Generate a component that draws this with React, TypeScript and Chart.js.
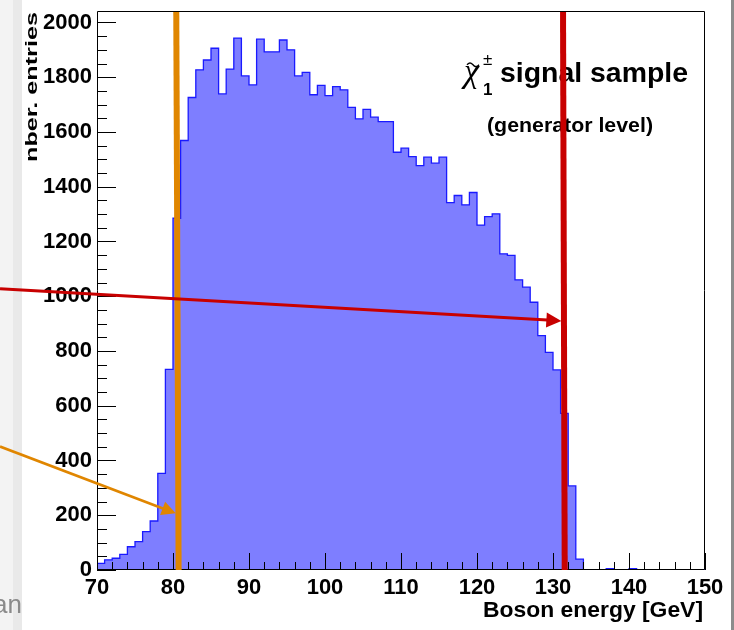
import React, { useEffect, useRef } from "react";
import { Chart, registerables } from "chart.js";

Chart.register(...registerables);

// ---- data ----
const binLow = 70;
const binWidth = 1;
const counts = [
  24, 37, 43, 57, 85, 104, 140, 179, 353, 733,
  1285, 1569, 1726, 1827, 1863, 1906, 1739, 1830, 1943, 1805,
  1772, 1939, 1893, 1893, 1936, 1900, 1805, 1818, 1736, 1770,
  1733, 1766, 1754, 1690, 1648, 1683, 1654, 1638, 1638, 1526,
  1541, 1510, 1477, 1508, 1486, 1508, 1342, 1368, 1334, 1379,
  1260, 1291, 1301, 1155, 1149, 1060, 1033, 978, 856, 795,
  731, 572, 307, 40, 0, 0, 0, 5, 0, 0,
  5, 0, 0, 0, 0, 0, 0, 0, 0, 0,
];
const xTicks = [70, 80, 90, 100, 110, 120, 130, 140, 150];
const yTicks = [0, 200, 400, 600, 800, 1000, 1200, 1400, 1600, 1800, 2000];
const xMin = 70;
const xMax = 150;
const yMax = 2042;
const xMinorStep = 2;
const yMinorStep = 50;

// cut lines (x at top, x at bottom) and arrows (data coordinates)
const orangeCut = [80.43, 80.74];
const redCut = [131.32, 131.54];
const redArrow = [57.24, 1027, 131.1, 910];
const orangeArrow = [57.24, 451, 80.36, 207];

const xTitle = "Boson energy [GeV]";
const yTitle = "nber. entries";
const sampleTitle = "signal sample";
const sampleSub = "(generator level)";

const SANS = '"Liberation Sans", Arial, sans-serif';
const SERIF = '"Liberation Serif", "Times New Roman", serif';

function scaledText(
  ctx: CanvasRenderingContext2D,
  text: string,
  x: number,
  y: number,
  width: number,
  font: string,
  align: "left" | "right"
) {
  ctx.save();
  ctx.font = font;
  ctx.textBaseline = "alphabetic";
  const w = ctx.measureText(text).width;
  const sx = width / w;
  ctx.translate(x, y);
  ctx.scale(sx, 1);
  ctx.textAlign = align;
  ctx.fillText(text, 0, 0);
  ctx.restore();
}

function drawArrow(
  ctx: CanvasRenderingContext2D,
  x0: number, y0: number, x1: number, y1: number,
  color: string, lw: number, headLen: number, headW: number
) {
  const ang = Math.atan2(y1 - y0, x1 - x0);
  const bx = x1 - headLen * Math.cos(ang);
  const by = y1 - headLen * Math.sin(ang);
  ctx.save();
  ctx.strokeStyle = color;
  ctx.fillStyle = color;
  ctx.lineWidth = lw;
  ctx.lineCap = "butt";
  ctx.beginPath();
  ctx.moveTo(x0, y0);
  ctx.lineTo(bx + 1 * Math.cos(ang), by + 1 * Math.sin(ang));
  ctx.stroke();
  const nx = -Math.sin(ang) * headW / 2;
  const ny = Math.cos(ang) * headW / 2;
  ctx.beginPath();
  ctx.moveTo(x1, y1);
  ctx.lineTo(bx + nx, by + ny);
  ctx.lineTo(bx - nx, by - ny);
  ctx.closePath();
  ctx.fill();
  ctx.restore();
}

const decorPlugin = {
  id: "rootDecor",
  beforeDraw(chart: any) {
    const ctx = chart.ctx as CanvasRenderingContext2D;
    ctx.save();
    ctx.fillStyle = "#ffffff";
    ctx.fillRect(0, 0, chart.width, chart.height);
    ctx.fillStyle = "#f3f3f3";
    ctx.fillRect(0, 0, 13, chart.height);
    ctx.fillStyle = "#e9e9e9";
    ctx.fillRect(13, 0, 9, chart.height);
    ctx.fillStyle = "#8c8c8c";
    ctx.fillRect(731, 0, 3, chart.height);
    ctx.fillStyle = "#8a8a8a";
    ctx.font = `26px ${SANS}`;
    ctx.textAlign = "right";
    ctx.textBaseline = "alphabetic";
    ctx.fillText("an", 22, 613);
    ctx.restore();
  },
  afterDatasetsDraw(chart: any) {
    const ctx = chart.ctx as CanvasRenderingContext2D;
    const { left, right, top, bottom } = chart.chartArea;
    const xs = chart.scales.x;
    const ys = chart.scales.y;
    ctx.save();
    ctx.strokeStyle = "#000";
    ctx.lineWidth = 1;
    ctx.beginPath();
    ctx.rect(left + 0.5, top + 0.5, right - left - 1, bottom - top - 1);
    ctx.stroke();
    // y ticks (inward)
    ctx.beginPath();
    for (let v = 0; v <= yMax; v += yMinorStep) {
      const py = Math.round(ys.getPixelForValue(v)) + 0.5;
      const major = v % 200 === 0;
      ctx.moveTo(left, py);
      ctx.lineTo(left + (major ? 19 : 10), py);
    }
    // x ticks (inward)
    for (let v = xMin; v <= xMax; v += xMinorStep) {
      const px = Math.round(xs.getPixelForValue(v)) + 0.5;
      const major = v % 10 === 0;
      ctx.moveTo(px, bottom);
      ctx.lineTo(px, bottom - (major ? 17 : 8));
    }
    ctx.stroke();
    ctx.restore();
  },
  afterDraw(chart: any) {
    const ctx = chart.ctx as CanvasRenderingContext2D;
    const xs = chart.scales.x;
    const ys = chart.scales.y;
    const { right } = chart.chartArea;
    ctx.save();
    ctx.fillStyle = "#000";

    // axis titles
    scaledText(ctx, xTitle, right - 2, 617, 220, `bold 22px ${SANS}`, "right");
    ctx.save();
    ctx.translate(37, 12);
    ctx.rotate(-Math.PI / 2);
    ctx.font = `bold 17px ${SANS}`;
    const tw = ctx.measureText(yTitle).width;
    ctx.scale(150 / tw, 1);
    ctx.textAlign = "right";
    ctx.textBaseline = "alphabetic";
    ctx.fillText(yTitle, 0, 0);
    ctx.restore();

    // chi label
    ctx.font = `italic 34px ${SERIF}`;
    ctx.textAlign = "left";
    ctx.textBaseline = "alphabetic";
    ctx.fillText("\u03c7", 464, 82);
    ctx.lineWidth = 1.4;
    ctx.strokeStyle = "#000";
    ctx.beginPath();
    for (let i = 0; i <= 20; i++) {
      const t = i / 20;
      const px = 467 + t * 12;
      const py = 64.8 - 1.8 * Math.sin(t * 2 * Math.PI);
      if (i === 0) ctx.moveTo(px, py);
      else ctx.lineTo(px, py);
    }
    ctx.stroke();
    ctx.font = `17px ${SANS}`;
    ctx.fillText("\u00b1", 483, 65);
    ctx.font = `bold 17px ${SANS}`;
    ctx.fillText("1", 483, 95);
    scaledText(ctx, sampleTitle, 500, 82, 188, `bold 27px ${SANS}`, "left");
    scaledText(ctx, sampleSub, 487, 132, 166, `bold 20px ${SANS}`, "left");

    // vertical cut lines
    const yTopPx = ys.getPixelForValue(yMax);
    const yBotPx = ys.getPixelForValue(0);
    ctx.lineWidth = 6;
    ctx.lineCap = "butt";
    ctx.strokeStyle = "#e08600";
    ctx.beginPath();
    ctx.moveTo(xs.getPixelForValue(orangeCut[0]), yTopPx + 1);
    ctx.lineTo(xs.getPixelForValue(orangeCut[1]), yBotPx);
    ctx.stroke();
    ctx.strokeStyle = "#c80000";
    ctx.beginPath();
    ctx.moveTo(xs.getPixelForValue(redCut[0]), yTopPx + 1);
    ctx.lineTo(xs.getPixelForValue(redCut[1]), yBotPx);
    ctx.stroke();

    // arrows
    drawArrow(
      ctx,
      xs.getPixelForValue(orangeArrow[0]), ys.getPixelForValue(orangeArrow[1]),
      xs.getPixelForValue(orangeArrow[2]), ys.getPixelForValue(orangeArrow[3]),
      "#e08600", 2.6, 14, 14
    );
    drawArrow(
      ctx,
      xs.getPixelForValue(redArrow[0]), ys.getPixelForValue(redArrow[1]),
      xs.getPixelForValue(redArrow[2]), ys.getPixelForValue(redArrow[3]),
      "#c80000", 3, 15, 15
    );
    ctx.restore();
  },
};

export default function App() {
  const canvasRef = useRef<HTMLCanvasElement | null>(null);

  useEffect(() => {
    const canvas = canvasRef.current;
    if (!canvas) return;
    const points = [
      { x: binLow, y: 0 },
      ...counts.map((c, i) => ({ x: binLow + i * binWidth, y: c })),
      { x: binLow + counts.length * binWidth, y: 0 },
    ];
    const tickFont = { family: SANS, size: 22, weight: "bold" as const };
    const chart = new Chart(canvas, {
      type: "line",
      data: {
        datasets: [
          {
            data: points,
            stepped: true,
            fill: "origin",
            backgroundColor: "rgb(126,126,255)",
            borderColor: "#1a1aff",
            borderWidth: 1.3,
            pointRadius: 0,
            tension: 0,
          },
        ],
      },
      options: {
        responsive: false,
        animation: false,
        devicePixelRatio: 1,
        layout: { padding: { left: 0, top: 11, right: 29, bottom: 0 } },
        plugins: {
          legend: { display: false },
          tooltip: { enabled: false },
          title: { display: false },
        },
        scales: {
          x: {
            type: "linear",
            min: xMin,
            max: xMax,
            offset: false,
            grid: { display: false, drawTicks: false },
            border: { display: false },
            afterBuildTicks: (s: any) => {
              s.ticks = xTicks.map((v) => ({ value: v }));
            },
            afterFit: (s: any) => {
              s.height = 60;
              s.paddingLeft = 0;
              s.paddingRight = 0;
            },
            ticks: {
              font: tickFont,
              color: "#000",
              padding: 5,
              maxRotation: 0,
              autoSkip: false,
              callback: (v: any) => String(v),
            },
          },
          y: {
            type: "linear",
            min: 0,
            max: yMax,
            grid: { display: false, drawTicks: false },
            border: { display: false },
            afterBuildTicks: (s: any) => {
              s.ticks = yTicks.map((v) => ({ value: v }));
            },
            afterFit: (s: any) => {
              s.width = 97;
              s.paddingTop = 0;
              s.paddingBottom = 0;
            },
            ticks: {
              font: tickFont,
              color: "#000",
              padding: 5,
              autoSkip: false,
              callback: (v: any) => String(v),
            },
          },
        },
      },
      plugins: [decorPlugin],
    });
    return () => chart.destroy();
  }, []);

  return (
    <div style={{ position: "fixed", left: 0, top: 0, width: 734, height: 630, background: "#fff" }}>
      <canvas ref={canvasRef} width={734} height={630} style={{ display: "block", width: 734, height: 630 }} />
    </div>
  );
}
